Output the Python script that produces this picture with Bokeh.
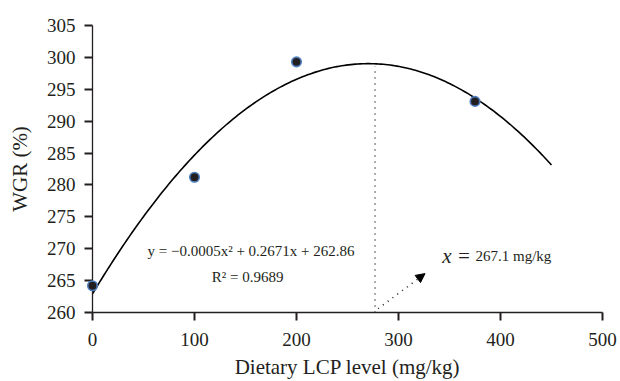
import numpy as np
from bokeh.plotting import figure
from bokeh.models import Range1d, Label, Arrow, NormalHead, FixedTicker, ColumnDataSource
from bokeh.embed import file_html
from bokeh.resources import INLINE

# ---- data ----
lcp_level = [0, 100, 200, 375]
wgr = [264.2, 281.2, 299.3, 293.1]
x_ticks = [0, 100, 200, 300, 400, 500]
y_ticks = [260, 265, 270, 275, 280, 285, 290, 295, 300, 305]
fit_x_max = 450
optimum_x = 277          # where the dotted guide is drawn
optimum_top = 298.6
arrow_start = (280, 260.6)
arrow_end = (326, 266.1)
eq_text = "y = \u22120.0005x\u00b2 + 0.2671x + 262.86"
r2_text = "R\u00b2 = 0.9689"
opt_label_x = "x ="
opt_label_val = "267.1 mg/kg"
x_title = "Dietary LCP level (mg/kg)"
y_title = "WGR (%)"

FONT = "Liberation Serif"
INK = "#231f20"

# quadratic trendline fitted to the data
coef = np.polyfit(lcp_level, wgr, 2)
xs = np.linspace(0, fit_x_max, 200)
ys = np.polyval(coef, xs)

p = figure(width=620, height=381, output_backend="svg", toolbar_location=None,
           x_range=Range1d(0, 500), y_range=Range1d(260, 305),
           min_border_left=92, min_border_right=18, min_border_top=25, min_border_bottom=65)
p.outline_line_color = None
p.grid.grid_line_color = None
p.background_fill_color = "white"

for ax in (p.xaxis[0], p.yaxis[0]):
    ax.axis_line_color = INK
    ax.axis_line_width = 1.3
    ax.major_tick_line_color = INK
    ax.major_tick_line_width = 2
    ax.major_tick_out = 8
    ax.major_tick_in = 0
    ax.minor_tick_line_color = None
    ax.major_label_text_font = FONT
    ax.major_label_text_font_size = "19px"
    ax.major_label_text_color = INK
    ax.axis_label_text_font = FONT
    ax.axis_label_text_font_size = "21px"
    ax.axis_label_text_font_style = "normal"
    ax.axis_label_text_color = INK

p.xaxis.ticker = FixedTicker(ticks=x_ticks)
p.yaxis.ticker = FixedTicker(ticks=y_ticks)
p.xaxis.axis_label = x_title
p.yaxis.axis_label = y_title
p.xaxis.major_label_standoff = 12
p.xaxis.axis_label_standoff = 6
p.yaxis.major_label_standoff = 9
p.yaxis.axis_label_standoff = 12

# trendline
p.line(xs, ys, line_color="black", line_width=1.6)

# dotted guide line
p.segment(x0=[optimum_x], y0=[260], x1=[optimum_x], y1=[optimum_top],
          line_color="#333333", line_width=1.6, line_dash="1 5")

# dotted arrow
p.add_layout(Arrow(x_start=arrow_start[0], y_start=arrow_start[1],
                   x_end=arrow_end[0], y_end=arrow_end[1],
                   line_color="#222222", line_width=1.6, line_dash="1 5",
                   end=NormalHead(size=9, fill_color="black", line_color="black", line_dash="solid")))

# data points
src = ColumnDataSource(dict(x=lcp_level, y=wgr))
r = p.scatter("x", "y", source=src, size=9.5, fill_color=INK, line_color="#4f7fc0", line_width=1.6)
r.level = "overlay"

# annotations
p.add_layout(Label(x=155.4, y=269.7, text=eq_text, text_font=FONT, text_font_size="15px",
                   text_color=INK, text_align="center", text_baseline="middle"))
p.add_layout(Label(x=152, y=265.5, text=r2_text, text_font=FONT, text_font_size="15px",
                   text_color=INK, text_align="center", text_baseline="middle"))
p.add_layout(Label(x=342.8, y=268.9, text=opt_label_x, text_font=FONT, text_font_size="21px",
                   text_font_style="italic", text_color=INK, text_align="left", text_baseline="middle"))
p.add_layout(Label(x=375.5, y=268.9, text=opt_label_val, text_font=FONT, text_font_size="15px",
                   text_color=INK, text_align="left", text_baseline="middle"))

open("out.html", "w").write(file_html(p, INLINE))
